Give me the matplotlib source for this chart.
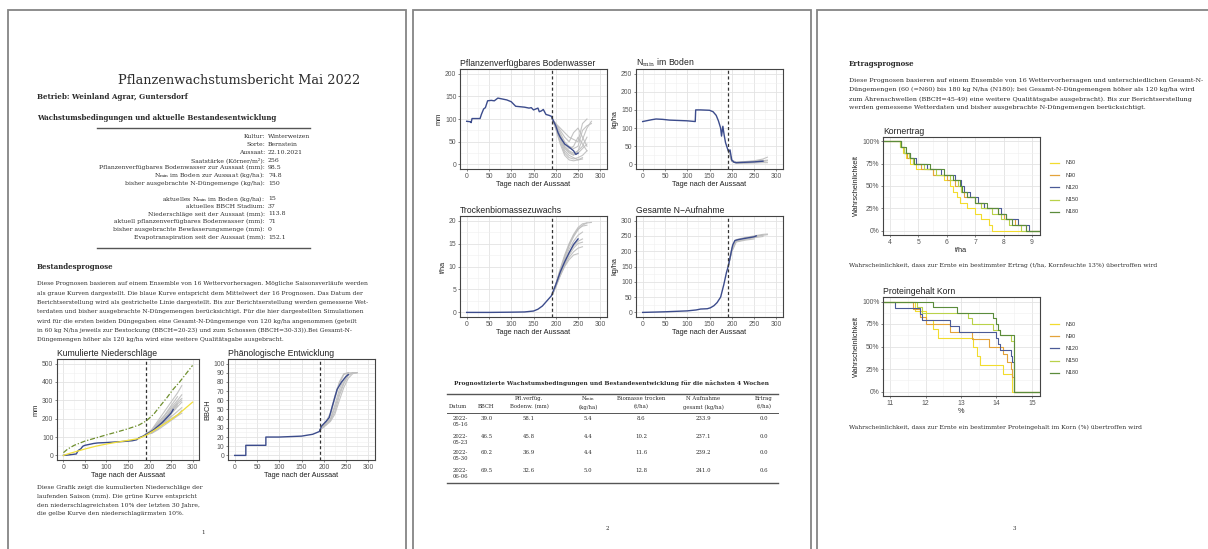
import numpy as np
import matplotlib
matplotlib.use('Agg')
import matplotlib.pyplot as plt
from matplotlib.patches import Rectangle
from matplotlib.lines import Line2D

plt.rcParams['mathtext.fontset'] = 'dejavuserif'
W, H = 1208, 549
SERIF = ['DejaVu Serif']
SANS = ['Liberation Sans', 'DejaVu Sans']

# ---------------- data ----------------
# page 1, table
info_labels = ['Kultur:', 'Sorte:', 'Aussaat:', 'Saatstärke (Körner/m²):',
               'Pflanzenverfügbares Bodenwasser zur Aussaat (mm):',
               'N$_{\\mathrm{min}}$ im Boden zur Aussaat (kg/ha):',
               'bisher ausgebrachte N-Düngemenge (kg/ha):', '',
               'aktuelles N$_{\\mathrm{min}}$ im Boden (kg/ha):',
               'aktuelles BBCH Stadium:', 'Niederschläge seit der Aussaat (mm):',
               'aktuell pflanzenverfügbares Bodenwasser (mm):',
               'bisher ausgebrachte Bewässerungsmenge (mm):',
               'Evapotranspiration seit der Aussaat (mm):']
info_values = ['Winterweizen', 'Bernstein', '22.10.2021', '256', '98.5', '74.8', '150', '',
               '15', '37', '113.8', '71', '0', '152.1']

report_day = 192

# Kumulierte Niederschlaege
rain_days = [0, 10, 20, 30, 33, 36, 40, 45, 50, 60, 70, 80, 100, 120, 140, 150, 160, 170,
             175, 180, 185, 192, 200, 210, 220, 230, 240, 250, 255]
rain_mean = [0, 2, 5, 8, 22, 30, 35, 50, 55, 60, 65, 68, 70, 73, 76, 78, 80, 85,
             95, 100, 105, 115, 125, 140, 160, 180, 205, 230, 250]
rain_wet_days = [0, 10, 25, 50, 75, 100, 125, 150, 175, 192, 210, 225, 240, 255, 270, 285, 300]
rain_wet = [15, 35, 55, 78, 95, 112, 128, 145, 165, 187, 225, 270, 313, 360, 400, 445, 490]
rain_dry_days = [0, 10, 25, 50, 75, 100, 125, 150, 175, 192, 210, 230, 250, 270, 285, 300]
rain_dry = [0, 8, 18, 35, 50, 62, 72, 82, 92, 110, 135, 165, 195, 230, 260, 290]
rain_ens_days = [192, 205, 220, 235, 250, 265, 275]
rain_ens = [[115, 125, 150, 180, 210, 240, 260],
            [115, 130, 165, 200, 250, 290, 310],
            [115, 120, 140, 165, 190, 215, 230],
            [115, 135, 175, 215, 260, 300, 330],
            [115, 128, 158, 190, 225, 265, 290],
            [115, 140, 190, 240, 290, 340, 380],
            [115, 122, 145, 175, 200, 220, 245],
            [115, 132, 170, 205, 240, 280, 300],
            [115, 126, 155, 195, 235, 270, np.nan],
            [115, 138, 180, 220, 270, 320, np.nan],
            [115, 124, 150, 185, 215, np.nan, np.nan],
            [115, 130, 160, 200, 245, 280, np.nan]]

# Phaenologische Entwicklung
bbch_days = [0, 25, 25, 70, 70, 100, 150, 175, 190, 195, 205, 212, 220, 230, 240, 250, 255]
bbch_mean = [0, 0, 11, 11, 20, 20, 21, 23, 26, 32, 37, 41, 55, 72, 80, 86, 88]
bbch_ens_days = [192, 205, 215, 225, 235, 245, 255, 265, 275]
bbch_ens = [[28, 35, 40, 55, 72, 83, 90, 90, np.nan],
            [28, 33, 38, 48, 65, 78, 87, 90, 90],
            [28, 36, 44, 62, 78, 88, 90, np.nan, np.nan],
            [28, 34, 39, 52, 68, 80, 88, 90, 90],
            [28, 37, 46, 65, 80, 89, 90, np.nan, np.nan],
            [28, 33, 37, 45, 60, 74, 84, 89, 90]]

# Pflanzenverfuegbares Bodenwasser
water_days = [0, 8, 10, 12, 30, 33, 38, 42, 47, 55, 62, 70, 80, 90, 100, 105, 110, 120, 130,
              140, 145, 150, 155, 160, 163, 168, 172, 178, 185, 190, 195, 200, 205, 210, 220,
              230, 240, 245, 250]
water_mean = [95, 94, 92, 101, 101, 110, 122, 125, 140, 141, 140, 146, 144, 142, 138, 133,
              128, 127, 126, 124, 125, 120, 122, 124, 116, 118, 121, 110, 108, 106, 95, 85,
              70, 60, 45, 38, 30, 22, 25]
water_ens_days = [192, 200, 210, 220, 230, 240, 250, 260, 270, 280]
water_ens = [[100, 85, 60, 40, 30, 25, 30, 55, 80, 95],
             [100, 80, 50, 25, 15, 12, 15, 20, 30, np.nan],
             [100, 90, 75, 60, 50, 70, 80, 60, 40, np.nan],
             [100, 85, 55, 30, 20, 15, 10, 12, np.nan, np.nan],
             [100, 88, 70, 50, 40, 35, 40, 75, 85, 90],
             [100, 82, 60, 35, 25, 20, 30, 40, 60, np.nan],
             [100, 90, 80, 70, 60, 55, 50, 90, 100, np.nan],
             [100, 78, 45, 20, 10, 8, 10, 15, np.nan, np.nan],
             [100, 86, 65, 45, 35, 40, 60, 45, 30, np.nan],
             [100, 84, 58, 38, 28, 22, 25, 35, 45, np.nan]]

# Nmin im Boden
nmin_days = [0, 20, 30, 45, 60, 80, 100, 118, 119, 130, 150, 158, 165, 170, 175, 177, 180,
             183, 186, 190, 193, 196, 200, 205, 210, 230, 250, 270]
nmin_mean = [118, 123, 125, 124, 122, 121, 120, 118, 150, 150, 149, 145, 135, 120, 100, 78,
             105, 80, 60, 45, 35, 40, 12, 6, 5, 6, 7, 9]
nmin_ens_days = [192, 200, 210, 230, 250, 270, 280]
nmin_ens = [[40, 10, 6, 8, 10, 15, 20],
            [40, 8, 4, 5, 6, 8, 10],
            [40, 12, 6, 6, 8, 10, 12],
            [40, 9, 3, 3, 4, 5, 5],
            [40, 11, 5, 7, 9, 12, np.nan]]

# Trockenbiomassezuwachs
bio_days = [0, 50, 100, 130, 150, 160, 170, 180, 190, 200, 210, 220, 230, 240, 250]
bio_mean = [0, 0, 0.05, 0.1, 0.3, 0.7, 1.4, 2.5, 3.6, 6, 8.8, 11, 13, 14.8, 16]
bio_ens_days = [192, 200, 210, 220, 230, 240, 250, 260, 270, 280]
bio_ens = [[3.8, 6, 9, 12, 14.5, 16.5, 18, 19, 19.5, 19.6],
           [3.8, 5.8, 8.5, 11, 13, 14.5, 15.5, 16, np.nan, np.nan],
           [3.8, 5.5, 8, 10, 11.5, 12.5, 12.8, np.nan, np.nan, np.nan],
           [3.8, 6.2, 9.5, 12.5, 15, 17, 18.5, 19.3, 19.5, np.nan],
           [3.8, 5.7, 8.2, 10.5, 12.5, 14, 15, 15.3, np.nan, np.nan],
           [3.8, 6, 8.8, 11.5, 13.8, 15.5, 16.8, 17.5, np.nan, np.nan],
           [3.8, 5.6, 8, 10.2, 12, 13.2, 14, 14.3, np.nan, np.nan],
           [3.8, 6.1, 9.2, 12.2, 14.8, 16.8, 18.2, 18.8, 19, np.nan]]

# Gesamte N-Aufnahme
nup_days = [0, 50, 100, 120, 130, 145, 152, 160, 167, 175, 182, 188, 192, 197, 202, 207,
            215, 230, 250, 255]
nup_mean = [0, 2, 5, 8, 11, 12, 15, 22, 32, 50, 90, 130, 150, 185, 220, 235, 238, 242, 247, 250]
nup_ens_days = [192, 200, 210, 230, 250, 270, 280]
nup_ens = [[150, 205, 235, 242, 248, 252, 254],
           [150, 200, 232, 238, 244, 248, np.nan],
           [150, 210, 238, 245, 250, 255, 256],
           [150, 198, 230, 236, 240, np.nan, np.nan],
           [150, 206, 236, 243, 248, 253, np.nan]]

# page 2 table
tab_header1 = ['', '', 'Pfl.verfüg.', 'N$_{\\mathrm{min}}$', 'Biomasse trocken', 'N Aufnahme', 'Ertrag']
tab_header2 = ['Datum', 'BBCH', 'Bodenw. (mm)', '(kg/ha)', '(t/ha)', 'gesamt (kg/ha)', '(t/ha)']
tab_dates = ['2022-05-16', '2022-05-23', '2022-05-30', '2022-06-06']
tab_bbch = ['39.0', '46.5', '60.2', '69.5']
tab_water = ['58.1', '45.8', '36.9', '32.6']
tab_nmin = ['5.4', '4.4', '4.4', '5.0']
tab_bio = ['8.6', '10.2', '11.6', '12.8']
tab_nup = ['233.9', '237.1', '239.2', '241.0']
tab_yield = ['0.0', '0.0', '0.0', '0.6']

# page 3: yield and protein of the forecasts per N level
n_levels = ['N60', 'N90', 'N120', 'N150', 'N180']
n_colors = ['#F2DC2E', '#E3A33B', '#4A5A97', '#B9D24A', '#5B8C3C']
yield_vals = {
    'N60': [4.35, 4.45, 4.55, 4.7, 4.9, 5.5, 5.9, 6.1, 6.2, 6.35, 6.45, 6.7, 7.0, 7.2, 7.5, 7.6],
    'N90': [4.4, 4.5, 4.6, 4.8, 5.1, 5.5, 6.0, 6.3, 6.5, 6.6, 7.0, 7.3, 7.8, 8.0, 8.4, 8.8],
    'N120': [4.4, 4.5, 4.7, 4.9, 5.3, 5.8, 6.3, 6.5, 6.6, 6.8, 7.1, 7.3, 7.9, 8.1, 8.5, 8.9],
    'N150': [4.35, 4.5, 4.65, 4.8, 5.2, 5.6, 6.1, 6.4, 6.5, 6.7, 7.0, 7.2, 7.6, 7.9, 8.2, 8.6],
    'N180': [4.4, 4.55, 4.7, 4.85, 5.4, 5.9, 6.2, 6.45, 6.55, 6.7, 7.0, 7.4, 7.8, 8.1, 8.3, 8.8],
}
protein_vals = {
    'N60': [11.7, 12.0, 12.2, 12.35, 13.35, 13.45, 13.55, 14.2, 14.45, 14.45],
    'N90': [11.65, 11.85, 12.0, 12.7, 13.3, 13.8, 14.2, 14.3, 14.4, 14.45, 14.5, 14.5],
    'N120': [11.15, 11.85, 11.9, 12.7, 12.95, 14.0, 14.05, 14.1, 14.4, 14.45, 14.5, 14.5,
             14.5, 14.5, 14.5],
    'N150': [11.75, 11.9, 13.2, 13.3, 13.9, 14.1, 14.4, 14.5, 14.5, 14.5, 14.5, 14.5,
             14.5, 14.5, 14.5, 14.5],
    'N180': [12.2, 12.9, 13.9, 14.0, 14.05, 14.1, 14.5, 14.5, 14.5, 14.5, 14.5, 14.5,
             14.5, 14.5, 14.5, 14.5],
}

# ---------------- helpers ----------------
fig = plt.figure(figsize=(W / 100, H / 100), dpi=100)
fig.patch.set_facecolor('white')


def fx(x):
    return x / W


def fy(y):
    return 1 - y / H


def txt(x, y, s, size=4.3, ha='left', va='center', weight='normal', color='#2b2b2b', family=SERIF):
    fig.text(fx(x), fy(y), s, fontsize=size, ha=ha, va=va, weight=weight,
             color=color, family=family)


def hrule(x0, x1, y, lw=0.8):
    fig.add_artist(Line2D([fx(x0), fx(x1)], [fy(y), fy(y)], color='#555555', lw=lw,
                          transform=fig.transFigure))


def gg_axes(x0, y0, x1, y1, xlim, ylim, xticks, yticks, title, xlabel, ylabel,
            ylabels=None):
    ax = fig.add_axes([fx(x0), fy(y1), fx(x1 - x0), (y1 - y0) / H])
    ax.set_xlim(*xlim)
    ax.set_ylim(*ylim)
    ax.set_xticks(xticks)
    ax.set_yticks(yticks)
    ax.set_xticks([(a + b) / 2 for a, b in zip(xticks[:-1], xticks[1:])], minor=True)
    ax.set_yticks([(a + b) / 2 for a, b in zip(yticks[:-1], yticks[1:])], minor=True)
    if ylabels is not None:
        ax.set_yticklabels(ylabels)
    ax.grid(which='major', color='#E3E3E3', lw=0.6)
    ax.grid(which='minor', color='#EFEFEF', lw=0.4)
    ax.set_axisbelow(True)
    for sp in ax.spines.values():
        sp.set_color('#444444')
        sp.set_linewidth(0.8)
    ax.tick_params(which='major', labelsize=4.9, colors='#555555', length=1.6,
                   width=0.5, pad=1)
    ax.tick_params(which='minor', length=0)
    for lab in ax.get_xticklabels() + ax.get_yticklabels():
        lab.set_family(SANS)
    ax.set_title(title, loc='left', fontsize=6.2, family=SANS, color='#222222', pad=2)
    ax.set_xlabel(xlabel, fontsize=5.3, family=SANS, color='#222222', labelpad=1)
    ax.set_ylabel(ylabel, fontsize=5.3, family=SANS, color='#222222', labelpad=1.5)
    return ax


def ensemble(ax, days, members, mean_days, mean, blue='#3C4C8C'):
    for m in members:
        ax.plot(days, m, color='#BDBDBD', lw=0.8, alpha=0.9)
    ax.plot(mean_days, mean, color=blue, lw=1.0)
    ax.axvline(report_day, color='#333333', lw=0.9, ls=(0, (2.5, 2)))


def survival(ax, vals, x0, x1, color):
    v = sorted(vals)
    n = len(v)
    xs = [x0] + v + [x1]
    ys = [1.0] + [1 - (i + 1) / n for i in range(n)] + [0.0]
    ax.step(xs, ys, where='post', color=color, lw=0.8)


def legend_block(y0):
    for i, (name, col) in enumerate(zip(n_levels, n_colors)):
        y = y0 + i * 12.2
        fig.add_artist(Line2D([fx(1050), fx(1059)], [fy(y), fy(y)], color=col, lw=0.9,
                              transform=fig.transFigure))
        txt(1066, y, name, size=3.9, family=SANS, color='#333333')


# page frames
for left in (8, 413, 817):
    fig.add_artist(Rectangle((fx(left), -0.1), fx(398), fy(10) + 0.1, fill=False,
                             edgecolor='#858585', lw=1.3, transform=fig.transFigure))

days_ticks = [0, 50, 100, 150, 200, 250, 300]
days_lim = (-15, 315)

# ---------------- page 1 ----------------
txt(239, 80, 'Pflanzenwachstumsbericht Mai 2022', size=9.3, ha='center')
txt(37, 97, 'Betrieb: Weinland Agrar, Guntersdorf', size=5.1, weight='bold')
txt(37, 118, 'Wachstumsbedingungen und aktuelle Bestandesentwicklung', size=5.0, weight='bold')
hrule(97, 310, 128, lw=1.0)
row_y = 137
for lab, val in zip(info_labels, info_values):
    if lab:
        txt(265, row_y, lab, size=4.45, ha='right')
        txt(268, row_y, val, size=4.45)
    row_y += 7.7
hrule(97, 310, 248, lw=1.0)

txt(37, 267, 'Bestandesprognose', size=5.0, weight='bold')
para1 = ['Diese Prognosen basieren auf einem Ensemble von 16 Wettervorhersagen. Mögliche Saisonsverläufe werden',
         'als graue Kurven dargestellt. Die blaue Kurve entspricht dem Mittelwert der 16 Prognosen. Das Datum der',
         'Berichtserstellung wird als gestrichelte Linie dargestellt. Bis zur Berichtserstellung werden gemessene Wet-',
         'terdaten und bisher ausgebrachte N-Düngemengen berücksichtigt. Für die hier dargestellten Simulationen',
         'wird für die ersten beiden Düngegaben eine Gesamt-N-Düngemenge von 120 kg/ha angenommen (geteilt',
         'in 60 kg N/ha jeweils zur Bestockung (BBCH=20-23) und zum Schossen (BBCH=30-33)).Bei Gesamt-N-',
         'Düngemengen höher als 120 kg/ha wird eine weitere Qualitätsgabe ausgebracht.']
for i, line in enumerate(para1):
    txt(37, 284 + i * 9.3, line, size=4.35)

ax = gg_axes(57, 359, 199, 460, days_lim, (-25, 525), days_ticks, [0, 100, 200, 300, 400, 500],
             'Kumulierte Niederschläge', 'Tage nach der Aussaat', 'mm')
ensemble(ax, rain_ens_days, rain_ens, rain_days, rain_mean)
ax.plot(rain_wet_days, rain_wet, color='#6F8F2E', lw=0.9, ls=(0, (4, 1.5, 1, 1.5)))
ax.plot(rain_dry_days, rain_dry, color='#F1DF3A', lw=0.9)

ax = gg_axes(228, 359, 375, 460, (-15, 315), (-5, 105), days_ticks, list(range(0, 101, 10)),
             'Phänologische Entwicklung', 'Tage nach der Aussaat', 'BBCH')
ensemble(ax, bbch_ens_days, bbch_ens, bbch_days, bbch_mean)

cap1 = ['Diese Grafik zeigt die kumulierten Niederschläge der',
        'laufenden Saison (mm). Die grüne Kurve entspricht',
        'den niederschlagreichsten 10% der letzten 30 Jahre,',
        'die gelbe Kurve den niederschlagärmsten 10%.']
for i, line in enumerate(cap1):
    txt(37, 488 + i * 8.5, line, size=4.4)
txt(203, 532, '1', size=4.0, ha='center')

# ---------------- page 2 ----------------
ax = gg_axes(460, 69, 607, 169, days_lim, (-10, 210), days_ticks, [0, 50, 100, 150, 200],
             'Pflanzenverfügbares Bodenwasser', 'Tage nach der Aussaat', 'mm')
ensemble(ax, water_ens_days, water_ens, water_days, water_mean)

ax = gg_axes(636, 69, 783, 169, days_lim, (-12.5, 262.5), days_ticks, [0, 50, 100, 150, 200, 250],
             'N$_{\\mathrm{min}}$ im Boden', 'Tage nach der Aussaat', 'kg/ha')
ensemble(ax, nmin_ens_days, nmin_ens, nmin_days, nmin_mean)

ax = gg_axes(460, 216, 607, 317, days_lim, (-1, 21), days_ticks, [0, 5, 10, 15, 20],
             'Trockenbiomassezuwachs', 'Tage nach der Aussaat', 't/ha')
ensemble(ax, bio_ens_days, bio_ens, bio_days, bio_mean)

ax = gg_axes(636, 216, 783, 317, days_lim, (-15, 315), days_ticks, [0, 50, 100, 150, 200, 250, 300],
             'Gesamte N\u2212Aufnahme', 'Tage nach der Aussaat', 'kg/ha')
ensemble(ax, nup_ens_days, nup_ens, nup_days, nup_mean)

txt(612, 383, 'Prognostizierte Wachstumsbedingungen und Bestandesentwicklung für die nächsten 4 Wochen',
    size=4.2, ha='center', weight='bold')
hrule(447, 778, 394, lw=1.0)
col_x = [458, 486, 529, 588, 641, 703, 764]
for cx, h1, h2 in zip(col_x, tab_header1, tab_header2):
    if h1:
        txt(cx, 398.5, h1, size=3.9, ha='center')
    txt(cx, 407, h2, size=3.9, ha='center')
hrule(447, 778, 413, lw=0.7)
for i in range(len(tab_dates)):
    y = 419 + i * 17
    d = tab_dates[i]
    txt(453, y, d[:5], size=3.9)
    txt(453, y + 6, d[5:], size=3.9)
    txt(481, y, tab_bbch[i], size=3.9)
    for cx, col in zip(col_x[2:], [tab_water, tab_nmin, tab_bio, tab_nup, tab_yield]):
        txt(cx, y, col[i], size=3.9, ha='center')
hrule(447, 778, 483, lw=1.0)
txt(607, 529, '2', size=4.0, ha='center')

# ---------------- page 3 ----------------
txt(849, 64, 'Ertragsprognose', size=5.0, weight='bold')
para3 = ['Diese Prognosen basieren auf einem Ensemble von 16 Wettervorhersagen und unterschiedlichen Gesamt-N-',
         'Düngemengen (60 (=N60) bis 180 kg N/ha (N180); bei Gesamt-N-Düngemengen höher als 120 kg/ha wird',
         'zum Ährenschwellen (BBCH=45-49) eine weitere Qualitätsgabe ausgebracht). Bis zur Berichtserstellung',
         'werden gemessene Wetterdaten und bisher ausgebrachte N-Düngemengen berücksichtigt.']
for i, line in enumerate(para3):
    txt(849, 81 + i * 8.8, line, size=4.6)

pct = ['0%', '25%', '50%', '75%', '100%']
ax = gg_axes(883, 137, 1040, 235, (3.75, 9.28), (-0.05, 1.05), [4, 5, 6, 7, 8, 9],
             [0, 0.25, 0.5, 0.75, 1.0], 'Kornertrag', 't/ha', 'Wahrscheinlichkeit', ylabels=pct)
for name, col in zip(n_levels, n_colors):
    survival(ax, yield_vals[name], 3.75, 9.28, col)
legend_block(163)
txt(849, 265, 'Wahrscheinlichkeit, dass zur Ernte ein bestimmter Ertrag (t/ha, Kornfeuchte 13%) übertroffen wird',
    size=4.45)

ax = gg_axes(883, 297, 1040, 396, (10.8, 15.23), (-0.05, 1.05), [11, 12, 13, 14, 15],
             [0, 0.25, 0.5, 0.75, 1.0], 'Proteingehalt Korn', '%', 'Wahrscheinlichkeit', ylabels=pct)
for name, col in zip(n_levels, n_colors):
    survival(ax, protein_vals[name], 10.8, 15.23, col)
legend_block(324)
txt(849, 427, 'Wahrscheinlichkeit, dass zur Ernte ein bestimmter Proteingehalt im Korn (%) übertroffen wird',
    size=4.45)
txt(1014, 529, '3', size=4.0, ha='center')

fig.savefig('out.png', dpi=100, facecolor='white')
